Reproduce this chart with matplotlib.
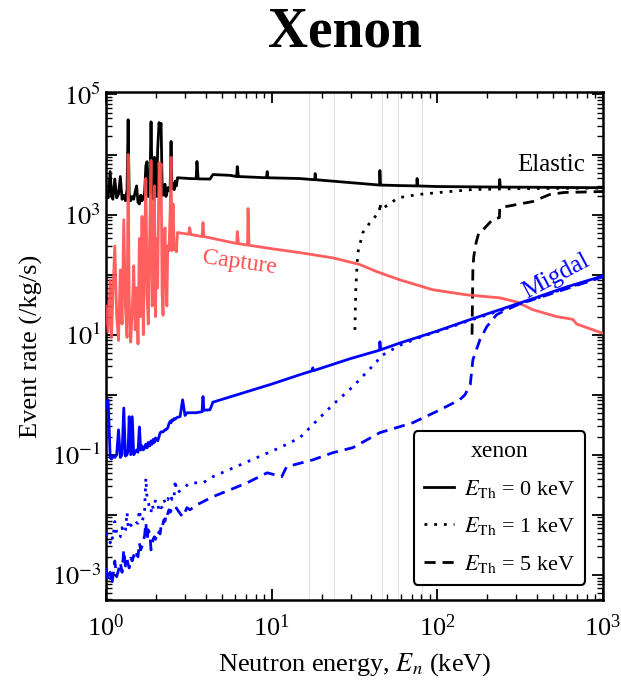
import numpy as np
import matplotlib
matplotlib.use('Agg')
import matplotlib.pyplot as plt
from matplotlib.lines import Line2D

plt.rcParams['font.family'] = ['Liberation Serif', 'DejaVu Serif']
plt.rcParams['mathtext.fontset'] = 'stix'

# shared energy grid in the resonance region (keV)
e_res = [1.00, 1.03, 1.06, 1.08, 1.10, 1.13, 1.16, 1.19, 1.22, 1.25, 1.28, 1.31, 1.34, 1.36,
         1.38, 1.41, 1.44, 1.47, 1.50, 1.53, 1.56, 1.59, 1.62, 1.65, 1.68, 1.71, 1.74, 1.77,
         1.80, 1.84, 1.87, 1.90, 1.93, 1.96, 1.99, 2.02, 2.05, 2.09, 2.12, 2.15, 2.18, 2.21,
         2.24, 2.27, 2.30, 2.33, 2.36, 2.40, 2.44, 2.47, 2.50, 2.54, 2.58, 2.62, 2.66, 2.70]

elastic_res = [2300, 1900, 5200, 2000, 1800, 3900, 1900, 2200, 4300, 1800, 2100, 1700, 2600, 38000,
               2200, 1700, 2000, 1800, 2400, 3000, 1600, 1500, 2100, 1700, 1900, 2300, 6500, 7600,
               2000, 2400, 35000, 2600, 1800, 9000, 2200, 2000, 12000, 34000, 28000, 33000, 3500, 2100,
               2600, 3200, 2000, 2300, 2800, 2500, 3000, 16500, 2700, 3300, 2600, 3600, 3000, 4100]
capture_res = [30, 11, 80, 9, 45, 300, 20, 8, 120, 15, 820, 30, 9, 10000,
               40, 7.5, 25, 140, 12, 60, 7, 400, 20, 930, 10, 250, 4000, 45,
               15, 700, 8000, 30, 90, 3000, 20, 400, 60, 7300, 3000, 7000, 50, 21,
               240, 600, 90, 30, 300, 250, 1200, 9000, 250, 1500, 260, 270, 240, 500]
migdal0_res = [0.6, 0.82, 0.09, 0.085, 0.095, 0.09, 0.1, 0.26, 0.09, 0.1, 0.6, 0.095, 0.1, 0.12,
               0.43, 0.1, 0.43, 0.1, 0.11, 0.12, 0.11, 0.29, 0.12, 0.14, 0.12, 0.13, 0.15, 0.13,
               0.16, 0.14, 0.17, 0.15, 0.18, 0.16, 0.19, 0.18, 0.17, 0.2, 0.23, 0.24, 0.24, 0.24,
               0.25, 0.26, 0.26, 0.27, 0.28, 0.33, 0.36, 0.34, 0.38, 0.37, 0.4, 0.39, 0.41, 0.42]
migdal1_res = [0.005, 0.0043, 0.0034, 0.0045, 0.0039, 0.0077, 0.005, 0.0041, 0.0043, 0.0061, 0.0049,
               0.0055, 0.011, 0.0063, 0.0058, 0.0068, 0.0061, 0.0066, 0.0069, 0.0074, 0.0072, 0.0121,
               0.0085, 0.0078, 0.009, 0.012, 0.041, 0.018, 0.0164, 0.012, 0.011, 0.015, 0.0125, 0.014,
               0.0178, 0.0164, 0.015, 0.012, 0.014, 0.013, 0.0135, 0.015, 0.0178, 0.016, 0.019, 0.018,
               0.0178, 0.021, 0.019, 0.02, 0.018, 0.022, 0.021, 0.038, 0.025, 0.0233]
migdal5_res = [0.0013, 0.0008, 0.0011, 0.00068, 0.0009, 0.0017, 0.00093, 0.0012, 0.0016, 0.0011,
               0.0026, 0.0014, 0.0018, 0.0015, 0.0013, 0.0019, 0.0017, 0.0021, 0.0018, 0.0022, 0.002,
               0.0034, 0.0026, 0.003, 0.0036, 0.0045, 0.0074, 0.0038, 0.0056, 0.0048, 0.0026, 0.0032,
               0.004, 0.0043, 0.0039, 0.0047, 0.0044, 0.0052, 0.0048, 0.0063, 0.0058, 0.0072, 0.0083,
               0.0078, 0.0095, 0.0088, 0.0105, 0.0121, 0.011, 0.0118, 0.0121, 0.0115, 0.0125, 0.012,
               0.013, 0.0121]

# smooth part above the resonances
e_el = [2.72, 3.2, 3.5, 3.54, 3.6, 4.24, 4.42, 5.6, 6.15, 6.2, 6.3, 9.3, 9.4, 9.5, 14.8,
        18.2, 18.3, 18.5, 30, 44.8, 45, 45.4, 59, 75.3, 75.5, 75.8, 100, 237, 238, 240,
        400, 550, 1000]
elastic_hi = [4100, 3980, 3950, 7650, 3930, 3900, 4640, 4500, 4300, 6300, 4300, 4100, 5200, 4100, 3980,
              3800, 4820, 3800, 3400, 3100, 5410, 3100, 3040, 3000, 3980, 3000, 2930, 2870, 3830, 2870,
              2850, 2830, 2800]

e_cap = [2.72, 3.15, 3.2, 3.25, 3.8, 3.85, 3.9, 6.15, 6.2, 6.3, 7.15, 7.2, 7.3, 10, 14.8,
         23.4, 34.1, 43.1, 59.2, 93.8, 150, 238, 302, 377, 524, 656, 694, 1000]
capture_hi = [500, 470, 605, 465, 430, 735, 430, 330, 520, 328, 310, 1260, 308, 270, 232,
              190, 147, 112, 82, 56, 46, 41, 35, 26, 20, 18, 15, 10.5]

e_mig0 = [2.8, 2.9, 3.0, 3.08, 3.5, 3.8, 3.85, 3.9, 4.24, 4.42, 10, 14.8, 17.6, 17.7, 17.8,
          30, 44.8, 45, 45.5, 59, 100, 150, 238, 400, 600, 1000]
migdal0_hi = [0.43, 0.82, 0.45, 0.5, 0.5, 0.52, 0.93, 0.55, 0.56, 0.75, 1.5, 2.15, 2.5, 2.8, 2.5,
              4.0, 5.5, 7.6, 5.6, 7.2, 11.5, 17, 26, 42, 62, 95]

e_mig1 = [3.21, 3.85, 4.42, 7.1, 11.2, 14.8, 17.7, 23.4, 30.9, 43.1, 45, 59, 80, 100, 150, 238,
          400, 600, 1000]
migdal1_hi = [0.034, 0.034, 0.043, 0.076, 0.131, 0.192, 0.316, 0.68, 1.36, 3.55, 4.3, 6.6, 9.2,
              11.2, 16.5, 25, 40.5, 60, 92]

e_mig5 = [2.9, 3.08, 3.21, 3.6, 4.42, 5.6, 7.1, 9.4, 11.5, 12.3, 17.7, 23.4, 30.9, 45, 71, 104,
          137, 147, 158, 164, 181, 199, 228, 262, 316, 464, 1000]
migdal5_hi = [0.0092, 0.0131, 0.0121, 0.015, 0.02, 0.026, 0.034, 0.05, 0.043, 0.063, 0.082, 0.108,
              0.131, 0.233, 0.34, 0.56, 0.83, 1.0, 1.47, 3.83, 8.3, 13.6, 21.5, 26, 32.7, 46, 92]

# elastic with thresholds
e_el1 = [31.8, 32.2, 32.6, 33.1, 35.5, 39.2, 44.8, 45, 45.6, 58, 75.5, 119, 164, 300, 1000]
elastic1 = [12, 56, 112, 230, 500, 735, 1120, 1580, 1200, 1900, 2150, 2420, 2610, 2700, 2760]
e_el5 = [162, 163, 164, 166, 171, 178, 189, 216, 237, 238, 302, 377, 475, 580, 1000]
elastic5 = [10, 40, 135, 200, 330, 500, 560, 830, 890, 1300, 1470, 1650, 2150, 2330, 2420]

marker_e = [16.8, 23.8, 46.3, 57.8, 80.7]

red = '#ff4d4d'
blue = '#0000ff'
dotted = (0, (1, 2.5))
dashed = (0, (4, 2.5))

fig = plt.figure(figsize=(6.21, 6.83), dpi=100)
ax = fig.add_axes([0.1707, 0.1215, 0.8003, 0.7438])

for e in marker_e:
    ax.axvline(e, color='#e0e0e0', lw=0.8, zorder=0)

ax.plot(e_res + e_el, elastic_res + elastic_hi, color='black', lw=2.0, zorder=2)
ax.plot(e_res + e_cap, capture_res + capture_hi, color=red, lw=2.0, alpha=0.9, zorder=3)
ax.plot(e_el1, elastic1, color='black', lw=2.0, ls=dotted, zorder=2)
ax.plot(e_el5, elastic5, color='black', lw=2.0, ls=dashed, zorder=2)
ax.plot(e_res + e_mig0, migdal0_res + migdal0_hi, color=blue, lw=2.0, zorder=4)
ax.plot(e_res + e_mig1, migdal1_res + migdal1_hi, color=blue, lw=2.0, ls=dotted, zorder=4)
ax.plot(e_res + e_mig5, migdal5_res + migdal5_hi, color=blue, lw=2.0, ls=dashed, zorder=4)

ax.set_xscale('log')
ax.set_yscale('log')
ax.set_xlim(1, 1000)
ax.set_ylim(3.8e-4, 1.1e5)


def ylab(v, p):
    k = int(round(np.log10(v)))
    if k % 2 == 1 and -3 <= k <= 5:
        return '$10^{%d}$' % k
    return ''


ax.tick_params(which='both', direction='in', top=True, right=True, labelsize=19)
ax.tick_params(which='major', length=8, width=1.3)
ax.tick_params(which='minor', length=4, width=1.0)
ax.tick_params(axis='x', which='major', pad=10)
ax.yaxis.set_major_locator(matplotlib.ticker.LogLocator(base=10, numticks=20))
ax.yaxis.set_major_formatter(matplotlib.ticker.FuncFormatter(ylab))
ax.yaxis.set_minor_locator(matplotlib.ticker.LogLocator(base=10, subs=np.arange(2, 10), numticks=20))
ax.yaxis.set_minor_formatter(matplotlib.ticker.NullFormatter())
for s in ax.spines.values():
    s.set_linewidth(1.8)

ax.set_xlabel('Neutron energy, $E_n$ (keV)', fontsize=19, labelpad=8)
ax.set_ylabel('Event rate (/kg/s)', fontsize=19, labelpad=6)
fig.suptitle('Xenon', fontsize=40, fontweight='bold', x=0.555, y=0.99)

ax.text(780, 4400, 'Elastic', fontsize=18, color='black', ha='right', va='bottom')
ax.text(6.4, 160, 'Capture', fontsize=17, color=red, ha='center', va='center', rotation=-8)
ax.text(520, 92, 'Migdal', fontsize=18, color=blue, ha='center', va='center', rotation=28)

handles = [Line2D([], [], color='black', lw=2.0),
           Line2D([], [], color='black', lw=2.0, ls=dotted),
           Line2D([], [], color='black', lw=2.0, ls=dashed)]
labels = [r'$E_{\mathrm{Th}}$ = 0 keV', r'$E_{\mathrm{Th}}$ = 1 keV', r'$E_{\mathrm{Th}}$ = 5 keV']
leg = ax.legend(handles, labels, title='xenon', loc='lower right', fontsize=16, title_fontsize=17,
                frameon=True, fancybox=True, edgecolor='black', framealpha=1,
                handlelength=1.35, handletextpad=0.45, labelspacing=0.7, borderpad=0.45,
                borderaxespad=0, bbox_to_anchor=(0.964, 0.03))
leg.get_frame().set_linewidth(1.5)

fig.savefig('out.png', dpi=100)
